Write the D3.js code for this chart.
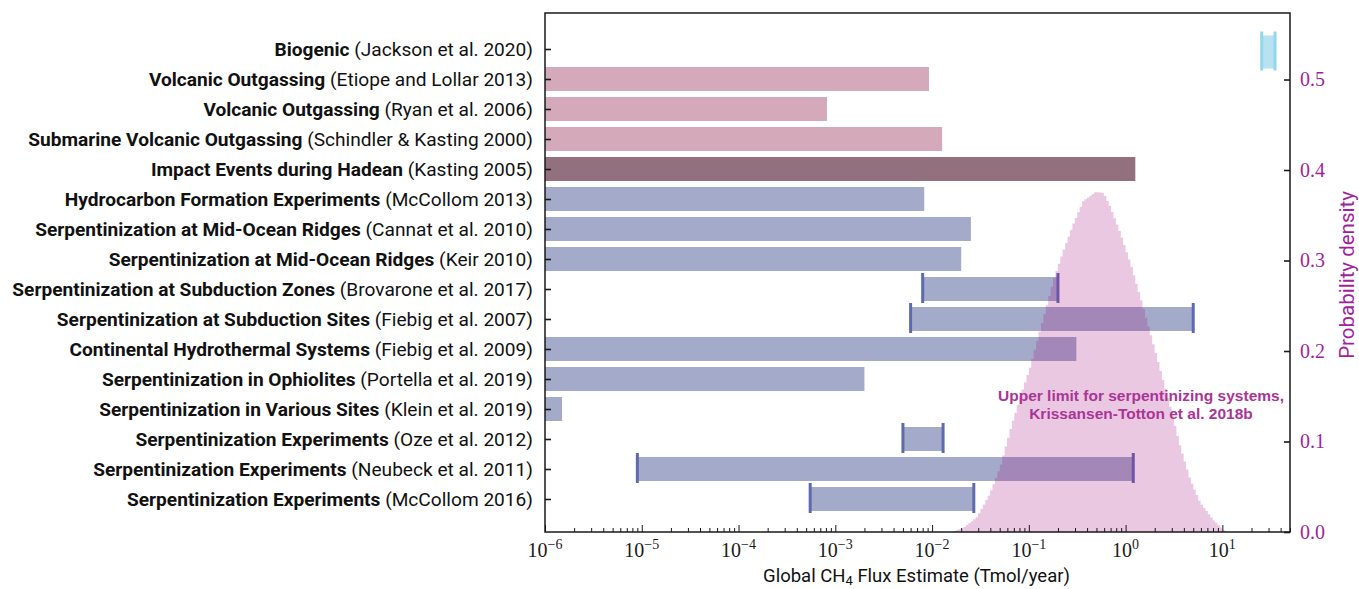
<!DOCTYPE html>
<html>
<head>
<meta charset="utf-8">
<script src="https://cdn.jsdelivr.net/npm/d3@7"></script>
<style>
  body { margin: 0; background: #fff; }
  svg { display: block; }
</style>
</head>
<body>
<svg id="chart" width="1359" height="589"></svg>
<script>
// ---- Data (rows listed top to bottom) ----
const sources = [
  "Biogenic",
  "Volcanic Outgassing",
  "Volcanic Outgassing",
  "Submarine Volcanic Outgassing",
  "Impact Events during Hadean",
  "Hydrocarbon Formation Experiments",
  "Serpentinization at Mid-Ocean Ridges",
  "Serpentinization at Mid-Ocean Ridges",
  "Serpentinization at Subduction Zones",
  "Serpentinization at Subduction Sites",
  "Continental Hydrothermal Systems",
  "Serpentinization in Ophiolites",
  "Serpentinization in Various Sites",
  "Serpentinization Experiments",
  "Serpentinization Experiments",
  "Serpentinization Experiments"
];
const citations = [
  "(Jackson et al. 2020)",
  "(Etiope and Lollar 2013)",
  "(Ryan et al. 2006)",
  "(Schindler & Kasting 2000)",
  "(Kasting 2005)",
  "(McCollom 2013)",
  "(Cannat et al. 2010)",
  "(Keir 2010)",
  "(Brovarone et al. 2017)",
  "(Fiebig et al. 2007)",
  "(Fiebig et al. 2009)",
  "(Portella et al. 2019)",
  "(Klein et al. 2019)",
  "(Oze et al. 2012)",
  "(Neubeck et al. 2011)",
  "(McCollom 2016)"
];
// Flux ranges in Tmol/year; null lower bound = upper limit only
const fluxLow  = [25.5, null, null, null, null, null, null, null, 0.008, 0.006, null, null, null, 0.005, 9e-6, 0.00055];
const fluxHigh = [35, 0.0093, 0.00082, 0.0127, 1.26, 0.0083, 0.0252, 0.020, 0.20, 5.0, 0.31, 0.002, 1.5e-6, 0.013, 1.2, 0.027];
const groups = ["biogenic", "volcanic", "volcanic", "volcanic", "impact",
  "abiotic", "abiotic", "abiotic", "abiotic", "abiotic", "abiotic",
  "abiotic", "abiotic", "abiotic", "abiotic", "abiotic"];

// Bottom axis: decades shown as 10^n
const xTickExponents = [-6, -5, -4, -3, -2, -1, 0, 1];
// Right axis ticks (probability density)
const densityTicks = [0.0, 0.1, 0.2, 0.3, 0.4, 0.5];

// Histogram of the serpentinizing-systems upper limit (log10 bins, Tmol/year)
const histFirstEdge = -1.80;   // log10 of the first bin's lower edge
const histBinWidth = 0.025;    // bin width in decades
const histDensity = [
  0.0003, 0.0012, 0.0021, 0.0031, 0.0040, 0.0056, 0.0077, 0.0099, 0.0120, 0.0141,
  0.0162, 0.0206, 0.0255, 0.0304, 0.0353, 0.0402, 0.0460, 0.0530, 0.0600, 0.0670,
  0.0747, 0.0846, 0.0944, 0.1042, 0.1139, 0.1228, 0.1316, 0.1405, 0.1494, 0.1574,
  0.1654, 0.1734, 0.1815, 0.1913, 0.2013, 0.2113, 0.2212, 0.2309, 0.2407, 0.2505,
  0.2607, 0.2710, 0.2803, 0.2883, 0.2963, 0.3043, 0.3121, 0.3193, 0.3265, 0.3338,
  0.3409, 0.3471, 0.3533, 0.3594, 0.3656, 0.3676, 0.3696, 0.3716, 0.3735, 0.3755,
  0.3754, 0.3752, 0.3750, 0.3712, 0.3657, 0.3603, 0.3537, 0.3467, 0.3397, 0.3327,
  0.3251, 0.3172, 0.3092, 0.3012, 0.2927, 0.2836, 0.2744, 0.2653, 0.2560, 0.2464,
  0.2367, 0.2271, 0.2173, 0.2075, 0.1977, 0.1879, 0.1780, 0.1681, 0.1582, 0.1482,
  0.1383, 0.1277, 0.1171, 0.1064, 0.0958, 0.0867, 0.0778, 0.0690, 0.0602, 0.0532,
  0.0470, 0.0408, 0.0346, 0.0300, 0.0265, 0.0231, 0.0196, 0.0161, 0.0128, 0.0101,
  0.0074, 0.0047, 0.0021, 0.0008
];

// ---- Styles ----
const groupFill = { biogenic: "#b6e2f1", volcanic: "#d4aaba", impact: "#93707d", abiotic: "#a4aac9" };
const groupCap  = { biogenic: "#94d6ee", volcanic: "#b98a9d", impact: "#6f4d5a", abiotic: "#5d6ab0" };
const magenta = "#a21f9c";
const sansFont = "Roboto, 'Open Sans', sans-serif";
const serifFont = "'Liberation Serif', 'DejaVu Serif', serif";

// ---- Layout ----
const plot = { left: 545, right: 1290, top: 13, bottom: 532 };
const labelLeftEdge = 12;  // left edge of the widest row label
const svg = d3.select("#chart");

const x = d3.scaleLog().domain([1e-6, 50]).range([plot.left, plot.right]);
// rows: index 0 (top) sits at position n-1
const nRows = sources.length;
const yPos = d3.scaleLinear().domain([-1.1, nRows + 0.2]).range([plot.bottom, plot.top]);
const rowY = i => yPos(nRows - 1 - i);
const rowStep = Math.abs(yPos(1) - yPos(0));
const yDensity = d3.scaleLinear().domain([0, 0.5735]).range([plot.bottom, plot.top]);

const rows = sources.map((s, i) => ({
  source: s, citation: citations[i], low: fluxLow[i], high: fluxHigh[i], group: groups[i], i
}));

// ---- Bars ----
const barG = svg.append("g");
rows.forEach(d => {
  const tall = d.group === "biogenic";
  const h = rowStep * (tall ? 1.1 : 0.8);
  const cy = rowY(d.i) + (tall ? 3 : 0);
  const x0 = d.low == null ? x.range()[0] : x(d.low);
  const x1 = x(d.high);
  barG.append("rect")
    .attr("x", x0).attr("y", cy - h / 2)
    .attr("width", Math.max(0, x1 - x0)).attr("height", h)
    .attr("fill", groupFill[d.group]);
  if (d.low != null) {
    const ch = tall ? rowStep * 1.3 : rowStep * 1.0;
    [x0, x1].forEach(cx => {
      barG.append("line")
        .attr("x1", cx).attr("x2", cx)
        .attr("y1", cy - ch / 2 - 1).attr("y2", cy + ch / 2 - 1)
        .attr("stroke", groupCap[d.group]).attr("stroke-width", 3);
    });
  }
});

// ---- Histogram (drawn translucent over the bars) ----
const histPts = histDensity.map((v, k) => [histFirstEdge + k * histBinWidth, v]);
histPts.push([histFirstEdge + histDensity.length * histBinWidth, histDensity[histDensity.length - 1]]);
const area = d3.area()
  .x(p => x(Math.pow(10, p[0])))
  .y0(plot.bottom)
  .y1(p => yDensity(p[1]))
  .curve(d3.curveStepAfter);
svg.append("path")
  .datum(histPts)
  .attr("d", area)
  .attr("fill", "rgb(167,26,134)")
  .attr("fill-opacity", 0.24);

// ---- Axes ----
const axisColor = "#1a1a1a";

// bottom major ticks (inward)
const xMajor = xTickExponents.map(e => Math.pow(10, e));
const gxMaj = svg.append("g").attr("transform", `translate(0,${plot.bottom})`)
  .call(d3.axisBottom(x).tickValues(xMajor).tickSize(-7).tickFormat(""));
// bottom minor ticks
const xMinor = x.ticks(80).filter(v => {
  const m = v / Math.pow(10, Math.floor(Math.log10(v) + 1e-9));
  return Math.abs(m - 1) > 1e-6;
});
const gxMin = svg.append("g").attr("transform", `translate(0,${plot.bottom})`)
  .call(d3.axisBottom(x).tickValues(xMinor).tickSize(-4).tickFormat(""));
[gxMaj, gxMin].forEach(g => {
  g.select(".domain").remove();
  g.selectAll(".tick line").attr("stroke", axisColor).attr("stroke-width", 1);
});

// bottom tick labels 10^n
const xl = svg.append("g");
xTickExponents.forEach(e => {
  const t = xl.append("text")
    .attr("x", x(Math.pow(10, e))).attr("y", plot.bottom + 25)
    .attr("text-anchor", "middle")
    .attr("font-family", serifFont).attr("font-size", 20).attr("fill", axisColor);
  t.append("tspan").text("10");
  t.append("tspan").attr("dy", -8).attr("font-size", 14).text(e < 0 ? "\u2212" + Math.abs(e) : String(e));
});

// left ticks (inward) at each row
const gy = svg.append("g").attr("transform", `translate(${plot.left},0)`)
  .call(d3.axisLeft(yPos).tickValues(d3.range(nRows)).tickSize(-6).tickFormat(""));
gy.select(".domain").remove();
gy.selectAll(".tick line").attr("stroke", axisColor).attr("stroke-width", 1.6);

// right density axis
const gr = svg.append("g").attr("transform", `translate(${plot.right},0)`)
  .call(d3.axisRight(yDensity).tickValues(densityTicks).tickSize(-6).tickPadding(10).tickFormat(d3.format(".1f")));
gr.select(".domain").remove();
gr.selectAll(".tick line").attr("stroke", axisColor).attr("stroke-width", 1.6);
gr.selectAll(".tick text")
  .attr("font-family", serifFont).attr("font-size", 20).attr("fill", magenta);

// frame
svg.append("rect")
  .attr("x", plot.left).attr("y", plot.top)
  .attr("width", plot.right - plot.left).attr("height", plot.bottom - plot.top)
  .attr("fill", "none").attr("stroke", axisColor).attr("stroke-width", 1.5);

// ---- Row labels (sized so the widest fits the left margin) ----
const lab = svg.append("g");
const labelRight = plot.left - 12;
const labels = rows.map(d => {
  const t = lab.append("text")
    .attr("x", labelRight).attr("y", rowY(d.i))
    .attr("dy", "0.36em")
    .attr("text-anchor", "end")
    .attr("font-family", sansFont).attr("font-size", 17).attr("fill", "#111");
  t.append("tspan").attr("font-weight", 700).text(d.source + " ");
  t.append("tspan").attr("font-weight", 400).text(d.citation);
  return t;
});
const widest = d3.max(labels, t => t.node().getComputedTextLength());
const labelSize = Math.min(20, 17 * (labelRight - labelLeftEdge) / widest);
labels.forEach(t => t.attr("font-size", labelSize));

// ---- Axis titles ----
const xt = svg.append("text")
  .attr("x", (plot.left + plot.right) / 2 - 1).attr("y", 582)
  .attr("text-anchor", "middle")
  .attr("font-family", sansFont).attr("font-size", 18.5).attr("fill", "#111");
xt.append("tspan").text("Global CH");
xt.append("tspan").attr("dy", 3).attr("font-size", 13).text("4");
xt.append("tspan").attr("dy", -3).text(" Flux Estimate (Tmol/year)");

svg.append("text")
  .attr("transform", `translate(1347,275) rotate(-90)`)
  .attr("text-anchor", "middle").attr("dy", "0.35em")
  .attr("font-family", sansFont).attr("font-size", 20.5).attr("fill", magenta)
  .text("Probability density");

// ---- Annotation ----
const ann = svg.append("text")
  .attr("text-anchor", "middle")
  .attr("font-family", "'Liberation Sans', Arial, sans-serif")
  .attr("font-weight", 700).attr("font-size", 15.5).attr("fill", "#ab3497");
ann.append("tspan").attr("x", 1141).attr("y", 401).text("Upper limit for serpentinizing systems,");
ann.append("tspan").attr("x", 1141).attr("y", 419).text("Krissansen-Totton et al. 2018b");
</script>
</body>
</html>
